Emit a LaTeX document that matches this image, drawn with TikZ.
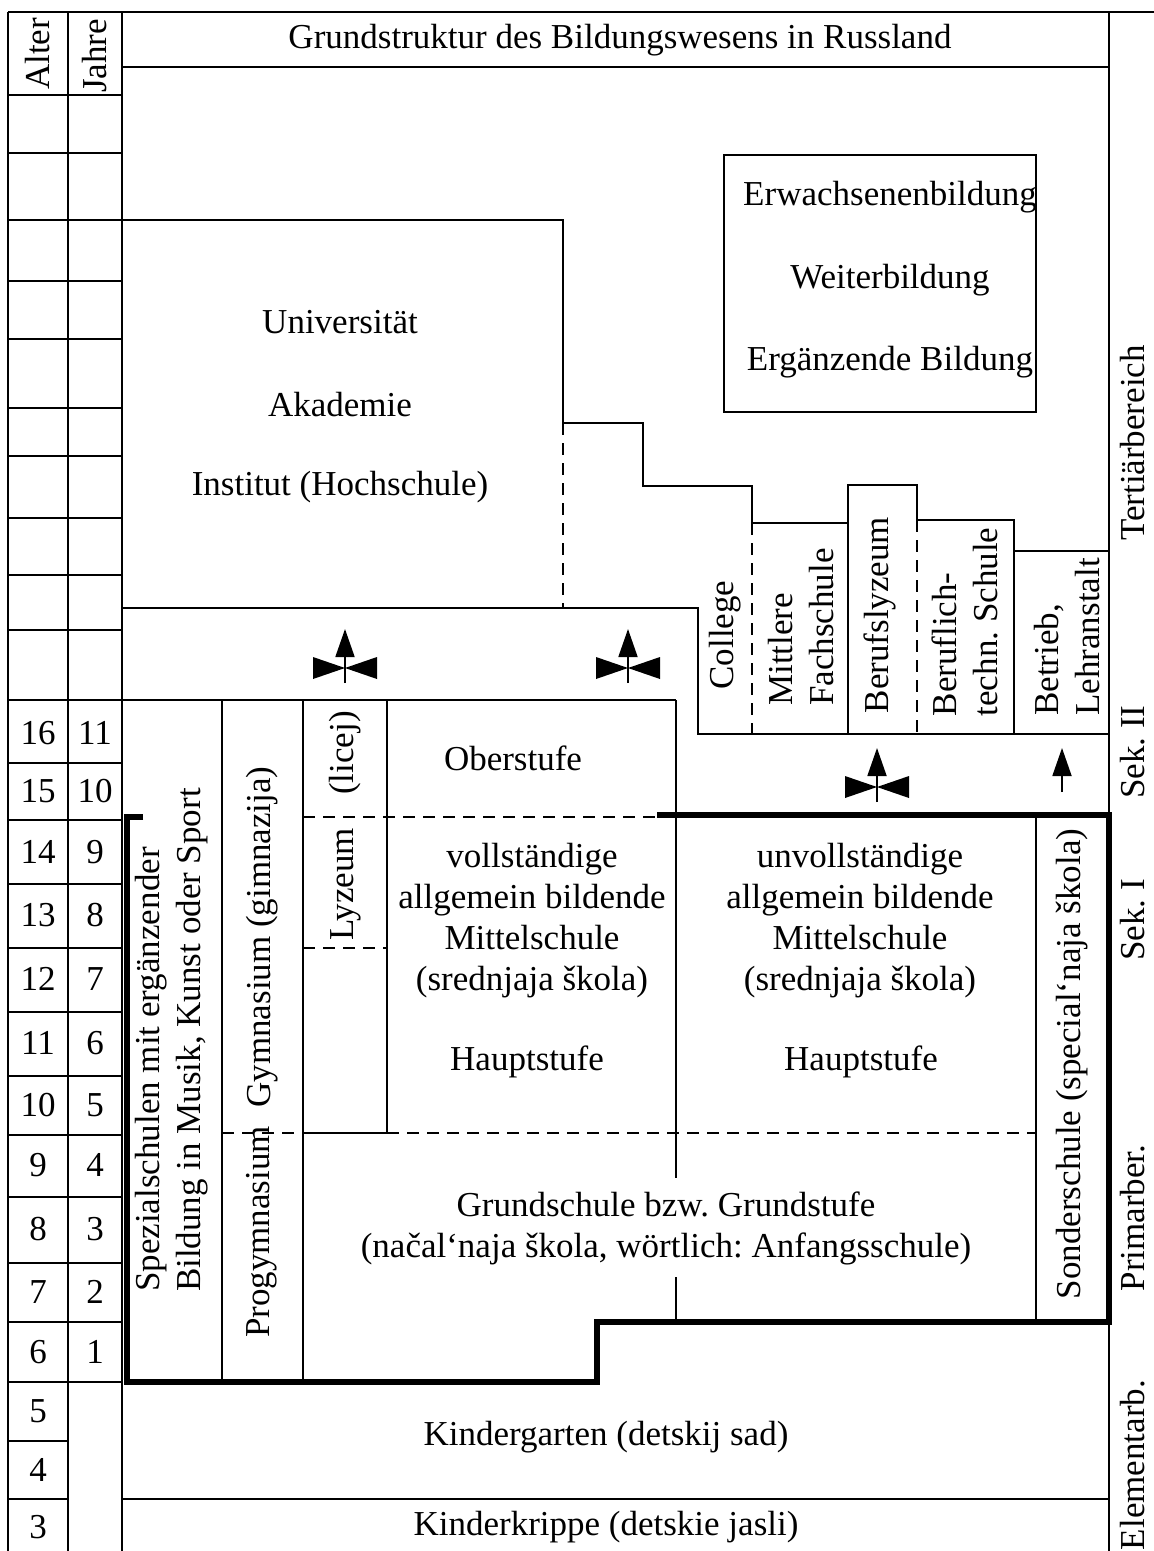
\documentclass[tikz,border=0pt]{standalone}
\usepackage{fontspec}
\setmainfont{Liberation Serif}
\usetikzlibrary{arrows.meta}

\begin{document}
\begin{tikzpicture}
		[x=1pt, y=-1pt,
		wall/.style={line width=1.8pt},
		heavy/.style={line width=6pt, line join=miter},
		gap/.style={line width=1.8pt, dash pattern=on 12pt off 8pt},
		txt/.style={font=\fontsize{35}{41}\selectfont\frenchspacing, inner sep=0pt, align=center},
		vtxt/.style={txt, rotate=90, align=left},
		up/.style={line width=1.8pt, -{Triangle[width=19pt, length=28pt]}}]
		\useasboundingbox (0,0) rectangle (1154,1551);

		\draw[wall] (8,12) -- (1154,12);
		\draw[wall] (8,12) -- (8,1551);
		\draw[wall] (68,12) -- (68,1551);
		\draw[wall] (122,12) -- (122,1551);
		\draw[wall] (1109,12) -- (1109,1551);
		\draw[wall] (122,67) -- (1109,67);

		\node[vtxt] (alter) at (38,54) {Alter};
		\node[vtxt] (jahre) at (95,56) {Jahre};
		\node[txt] (title) at (620,40) {Grundstruktur des Bildungswesens in Russland};

		\foreach \y in {95,153,220,281,339,408,456,518,575,630,700,763,820,884,948,1012,1076,1135,1197,1263,1322,1382}
			\draw[wall] (8,\y) -- (122,\y);
		\foreach \y in {1441,1499}
			\draw[wall] (8,\y) -- (68,\y);
		\foreach \a/\y in {16/733,15/791,14/852,13/915,12/979,11/1043,10/1105,9/1165,8/1229,7/1292,6/1352,5/1411,4/1470,3/1527}
			\node[txt] (age\a) at (38,\y) {\a};
		\foreach \j/\y in {11/733,10/791,9/852,8/915,7/979,6/1043,5/1105,4/1165,3/1229,2/1292,1/1352}
			\node[txt] (year\j) at (95,\y) {\j};

		\draw[wall] (122,220) -- (563,220) -- (563,423) -- (643,423) -- (643,486) -- (752,486) -- (752,523)
			-- (848,523) -- (848,485) -- (917,485) -- (917,520) -- (1014,520) -- (1014,551) -- (1109,551);
		\draw[gap] (563,423) -- (563,608);
		\draw[wall] (122,608) -- (698,608) -- (698,734) -- (1109,734);
		\draw[gap] (752,523) -- (752,734);
		\draw[wall] (848,523) -- (848,734);
		\draw[gap] (917,520) -- (917,734);
		\draw[wall] (1014,551) -- (1014,734);
		\draw[wall] (724,155) rectangle (1036,412);

		\node[txt] (uni) at (340,322) {Universität};
		\node[txt] (akad) at (340,405) {Akademie};
		\node[txt] (inst) at (340,487) {Institut (Hochschule)};
		\node[txt] (erw) at (890,197) {Erwachsenenbildung};
		\node[txt] (weiter) at (890,280) {Weiterbildung};
		\node[txt] (ergaenz) at (890,362) {Ergänzende Bildung};

		\node[vtxt] (college) at (725,635) {College};
		\node[vtxt] (fach) at (801,627) {Mittlere\\Fachschule};
		\node[vtxt] (beruflyz) at (880,615) {Berufslyzeum};
		\node[vtxt] (techn) at (965,622) {Beruflich-\\techn. Schule};
		\node[vtxt] (betrieb) at (1067,637) {Betrieb,\\Lehranstalt};

		\foreach \x/\y in {345/668, 628/668, 877/787} {
			\draw[up] (\x,\y+15) -- (\x,\y-39);
			\fill (\x-32,\y-11) -- (\x,\y) -- (\x-32,\y+11) -- cycle;
			\fill (\x+32,\y-11) -- (\x,\y) -- (\x+32,\y+11) -- cycle;
		}
		\draw[up] (1062,792) -- (1062,748);

		\draw[wall] (122,700) -- (676,700);
		\draw[wall] (676,700) -- (676,1178);
		\draw[wall] (676,1277) -- (676,1322);
		\draw[wall] (222,700) -- (222,1382);
		\draw[wall] (303,700) -- (303,1382);
		\draw[wall] (387,700) -- (387,1133) -- (303,1133);
		\draw[gap] (303,817) -- (657,817);
		\draw[gap] (303,948) -- (387,948);
		\draw[gap] (222,1133) -- (303,1133);
		\draw[gap] (387,1133) -- (1036,1133);
		\draw[wall] (1036,815) -- (1036,1322);
		\draw[wall] (122,1499) -- (1109,1499);
		\draw[heavy] (143,817) -- (127,817) -- (127,1382) -- (597,1382) -- (597,1322) -- (1109,1322) -- (1109,815) -- (657,815);

		\node[vtxt] (spez) at (172,1040) {Spezialschulen mit ergänzender\\Bildung in Musik, Kunst oder Sport};
		\node[vtxt] (gym) at (262,937) {Gymnasium (gimnazija)};
		\node[vtxt] (progym) at (262,1232) {Progymnasium};
		\node[vtxt] (lyz) at (345,826) {Lyzeum\hspace{33pt}(licej)};
		\node[vtxt] (sonder) at (1072,1064) {Sonderschule (special‘naja škola)};

		\node[txt] (ober) at (513,758) {Oberstufe};
		\node[txt] (voll) at (532,921) {vollständige\\allgemein bildende\\Mittelschule\\(srednjaja škola)};
		\node[txt] (haupt1) at (527,1062) {Hauptstufe};
		\node[txt] (unvoll) at (860,921) {unvollständige\\allgemein bildende\\Mittelschule\\(srednjaja škola)};
		\node[txt] (haupt2) at (861,1062) {Hauptstufe};
		\node[txt] (grund) at (666,1228) {Grundschule bzw. Grundstufe\\(načal‘naja škola, wörtlich: Anfangsschule)};
		\node[txt] (kiga) at (606,1437) {Kindergarten (detskij sad)};
		\node[txt] (krippe) at (606,1527) {Kinderkrippe (detskie jasli)};

		\node[vtxt] (tert) at (1133,443) {Tertiärbereich};
		\node[vtxt] (sek2) at (1133,752) {Sek. II};
		\node[vtxt] (sek1) at (1133,920) {Sek. I};
		\node[vtxt] (prim) at (1133,1218) {Primarber.};
		\node[vtxt] (elem) at (1133,1465) {Elementarb.};
\end{tikzpicture}
\end{document}
